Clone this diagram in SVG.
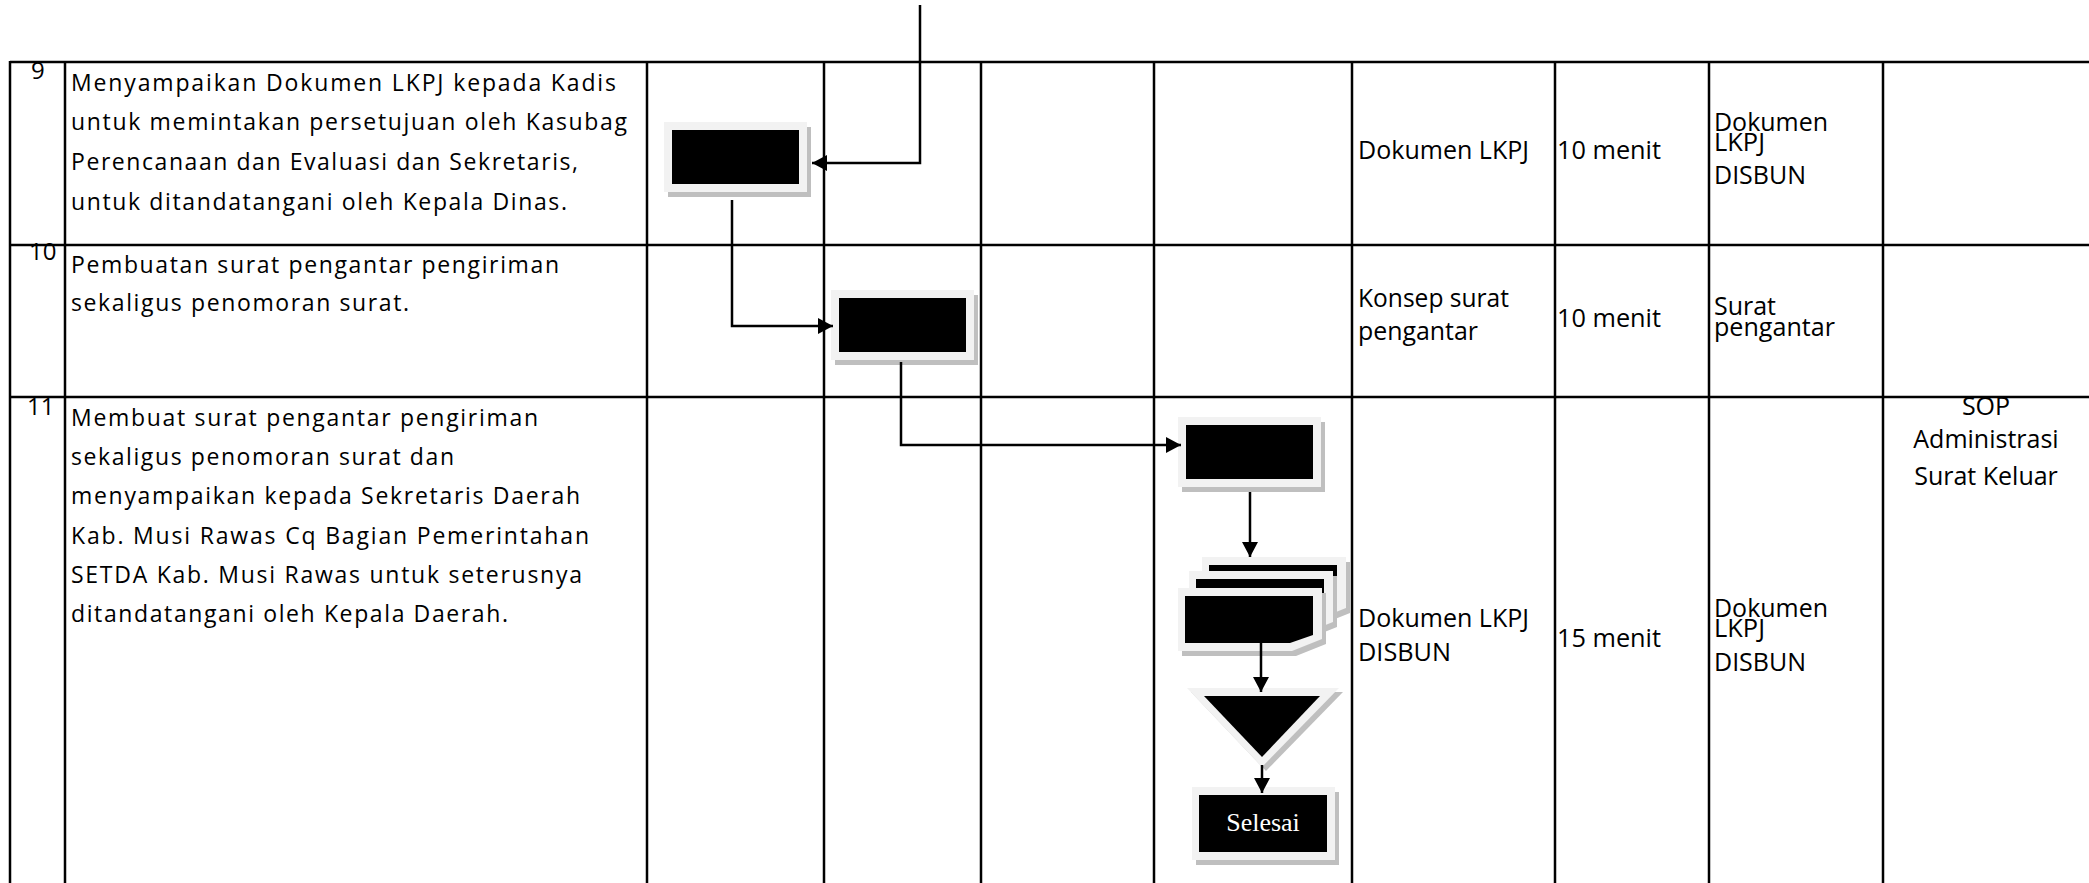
<svg xmlns="http://www.w3.org/2000/svg" width="2089" height="883" viewBox="0 0 2089 883">
<style>
.t{font-family:"Open Sans","Liberation Sans",sans-serif;font-size:23px;fill:#000}
.r{font-family:"Open Sans","Liberation Sans",sans-serif;font-size:25px;fill:#000}
.n{font-family:"Open Sans","Liberation Sans",sans-serif;font-size:24px;fill:#000}
.grid line{stroke:#000;stroke-width:2.5}
.frame{fill:#f2f2f2}
.shadow{fill:#bfbfbf}
.blk{fill:#000}
.con{fill:none;stroke:#000;stroke-width:2.5}
.sel{font-family:"Liberation Serif","Times New Roman",serif;font-size:26px;fill:#fff}
</style>
<defs>
<marker id="ah" markerUnits="userSpaceOnUse" markerWidth="16" markerHeight="16" refX="15" refY="8" orient="auto">
<path d="M0,0 L15,8 L0,16 Z" fill="#000"/>
</marker>
<path id="docFrame" d="M1178,588 H1322 V639 L1292,651 H1178 Z"/>
<path id="docBlack" d="M1185,596 H1313 V635 L1290,643 H1185 Z"/>
</defs>
<rect width="2089" height="883" fill="#fff"/>

<g id="texts">
<text class="n" x="31" y="79">9</text>
<text class="n" x="29" y="260">10</text>
<text class="n" x="27" y="415">11</text>

<text class="t" x="71" y="91" textLength="545" lengthAdjust="spacing">Menyampaikan  Dokumen  LKPJ kepada Kadis</text>
<text class="t" x="71" y="130" textLength="556" lengthAdjust="spacing">untuk memintakan  persetujuan  oleh Kasubag</text>
<text class="t" x="71" y="170" textLength="507" lengthAdjust="spacing">Perencanaan dan Evaluasi dan Sekretaris,</text>
<text class="t" x="71" y="210" textLength="496" lengthAdjust="spacing">untuk ditandatangani  oleh Kepala Dinas.</text>

<text class="t" x="71" y="273" textLength="488" lengthAdjust="spacing">Pembuatan surat pengantar pengiriman</text>
<text class="t" x="71" y="311" textLength="338" lengthAdjust="spacing">sekaligus penomoran surat.</text>

<text class="t" x="71" y="426" textLength="467" lengthAdjust="spacing">Membuat surat pengantar pengiriman</text>
<text class="t" x="71" y="465" textLength="383" lengthAdjust="spacing">sekaligus penomoran surat dan</text>
<text class="t" x="71" y="504" textLength="509" lengthAdjust="spacing">menyampaikan  kepada Sekretaris Daerah</text>
<text class="t" x="71" y="544" textLength="518" lengthAdjust="spacing">Kab. Musi Rawas  Cq Bagian Pemerintahan</text>
<text class="t" x="71" y="583" textLength="511" lengthAdjust="spacing">SETDA Kab. Musi Rawas untuk seterusnya</text>
<text class="t" x="71" y="622" textLength="437" lengthAdjust="spacing">ditandatangani  oleh Kepala Daerah.</text>

<text class="r" x="1358" y="159" textLength="171" lengthAdjust="spacingAndGlyphs">Dokumen LKPJ</text>
<text class="r" x="1557" y="159" textLength="104" lengthAdjust="spacingAndGlyphs">10 menit</text>
<text class="r" x="1714" y="131" textLength="114" lengthAdjust="spacingAndGlyphs">Dokumen</text>
<text class="r" x="1714" y="151" textLength="51" lengthAdjust="spacingAndGlyphs">LKPJ</text>
<text class="r" x="1714" y="184" textLength="92" lengthAdjust="spacingAndGlyphs">DISBUN</text>

<text class="r" x="1358" y="307" textLength="151" lengthAdjust="spacingAndGlyphs">Konsep surat</text>
<text class="r" x="1358" y="340" textLength="120" lengthAdjust="spacingAndGlyphs">pengantar</text>
<text class="r" x="1557" y="327" textLength="104" lengthAdjust="spacingAndGlyphs">10 menit</text>
<text class="r" x="1714" y="315" textLength="62" lengthAdjust="spacingAndGlyphs">Surat</text>
<text class="r" x="1714" y="336" textLength="121" lengthAdjust="spacingAndGlyphs">pengantar</text>

<text class="r" x="1986" y="415" text-anchor="middle">SOP</text>
<text class="r" x="1986" y="448" text-anchor="middle">Administrasi</text>
<text class="r" x="1986" y="485" text-anchor="middle">Surat Keluar</text>
<text class="r" x="1358" y="627" textLength="171" lengthAdjust="spacingAndGlyphs">Dokumen LKPJ</text>
<text class="r" x="1358" y="661" textLength="93" lengthAdjust="spacingAndGlyphs">DISBUN</text>
<text class="r" x="1557" y="647" textLength="104" lengthAdjust="spacingAndGlyphs">15 menit</text>
<text class="r" x="1714" y="617" textLength="114" lengthAdjust="spacingAndGlyphs">Dokumen</text>
<text class="r" x="1714" y="637" textLength="51" lengthAdjust="spacingAndGlyphs">LKPJ</text>
<text class="r" x="1714" y="671" textLength="92" lengthAdjust="spacingAndGlyphs">DISBUN</text>
</g>

<g id="grid" class="grid">
<line x1="10" y1="62" x2="2089" y2="62"/>
<line x1="10" y1="245" x2="2089" y2="245"/>
<line x1="10" y1="397" x2="2089" y2="397"/>
<line x1="10" y1="61" x2="10" y2="883"/>
<line x1="65" y1="61" x2="65" y2="883"/>
<line x1="647" y1="61" x2="647" y2="883"/>
<line x1="824" y1="61" x2="824" y2="883"/>
<line x1="981" y1="61" x2="981" y2="883"/>
<line x1="1154" y1="61" x2="1154" y2="883"/>
<line x1="1352" y1="61" x2="1352" y2="883"/>
<line x1="1555" y1="61" x2="1555" y2="883"/>
<line x1="1709" y1="61" x2="1709" y2="883"/>
<line x1="1883" y1="61" x2="1883" y2="883"/>
</g>

<g id="node-process-9">
<rect class="shadow" x="668" y="127" width="143" height="70"/>
<rect class="frame" x="664" y="122" width="143" height="70"/>
<rect class="blk" x="672" y="130" width="127" height="54"/>
</g>
<g id="node-process-10">
<rect class="shadow" x="835" y="295" width="143" height="70"/>
<rect class="frame" x="831" y="290" width="143" height="70"/>
<rect class="blk" x="839" y="298" width="127" height="54"/>
</g>
<g id="node-process-11">
<rect class="shadow" x="1182" y="422" width="143" height="70"/>
<rect class="frame" x="1178" y="417" width="143" height="70"/>
<rect class="blk" x="1186" y="425" width="127" height="54"/>
</g>
<g id="node-multidoc">
<g transform="translate(24,-31)">
<use href="#docFrame" class="shadow" transform="translate(4,5)"/>
<use href="#docFrame" class="frame"/>
<use href="#docBlack" class="blk"/>
</g>
<g transform="translate(11,-17)">
<use href="#docFrame" class="shadow" transform="translate(4,5)"/>
<use href="#docFrame" class="frame"/>
<use href="#docBlack" class="blk"/>
</g>
<use href="#docFrame" class="shadow" transform="translate(4,5)"/>
<use href="#docFrame" class="frame"/>
<use href="#docBlack" class="blk"/>
</g>
<g id="node-merge">
<polygon class="shadow" points="1191,692 1343,692 1266,771"/>
<polygon class="frame" points="1187,688 1339,688 1262,767"/>
<polygon class="blk" points="1204,696 1320,696 1262,757"/>
</g>
<g id="node-selesai">
<rect class="shadow" x="1196" y="792" width="143" height="73"/>
<rect class="frame" x="1192" y="787" width="143" height="73"/>
<rect class="blk" x="1199" y="795" width="128" height="57"/>
<text class="sel" x="1263" y="831" text-anchor="middle">Selesai</text>
</g>

<g id="connectors">
<path class="con" d="M920,5 V163 H812" marker-end="url(#ah)"/>
<path class="con" d="M732,200 V326 H833" marker-end="url(#ah)"/>
<path class="con" d="M901,362 V445 H1181" marker-end="url(#ah)"/>
<path class="con" d="M1250,492 V557" marker-end="url(#ah)"/>
<path class="con" d="M1261,643 V692" marker-end="url(#ah)"/>
<path class="con" d="M1262,765 V793" marker-end="url(#ah)"/>
</g>
</svg>
